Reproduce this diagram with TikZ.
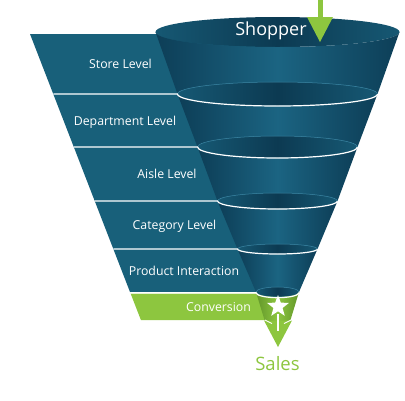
\documentclass[tikz,border=0pt]{standalone}
\usepackage{fontspec}
\setmainfont{Open Sans}
\usepackage{tikz}
\usetikzlibrary{shapes.geometric}
\definecolor{panelblue}{RGB}{24,96,122}
\definecolor{coneedge}{RGB}{13,62,87}
\definecolor{conemid}{RGB}{27,100,130}
\definecolor{rimedge}{RGB}{22,88,115}
\definecolor{rimmid}{RGB}{12,58,82}
\definecolor{rimline}{RGB}{60,135,165}
\definecolor{funnelgreen}{RGB}{141,198,63}
\definecolor{greendark}{RGB}{98,150,42}
\tikzset{
  cone/.style={left color=coneedge, right color=coneedge, middle color=conemid},
  rim/.style={left color=rimedge, right color=rimedge, middle color=rimmid},
  greencone/.style={left color=greendark, right color=greendark, middle color=funnelgreen},
  rimtop/.style={draw=rimline, line width=0.5pt},
  sepline/.style={white, line width=1.2pt},
  lvl/.style={text=white, anchor=base, inner sep=0pt, font=\fontsize{12.3}{14}\selectfont}
}
\begin{document}
\begin{tikzpicture}[x=1pt, y=1pt]
  \useasboundingbox (0,0) rectangle (405,-400);
  % side panel with the levels
  \fill[panelblue] (30,-34) -- (280,-34) -- (280,-292) -- (130,-292) -- cycle;
  \fill[funnelgreen] (130.6,-293.5) -- (280,-293.5) -- (280,-320) -- (140.9,-320) -- cycle;
  % funnel, top to bottom
  \shade[rim] (277.5,-32) ellipse[x radius=122, y radius=15];
  \shade[cone] (155.5,-32) -- (177.5,-94) arc[start angle=180, end angle=360, x radius=100, y radius=12]
    -- (399.5,-32) arc[start angle=0, end angle=-180, x radius=122, y radius=15] -- cycle;
  \shade[rim, rimtop] (277.5,-94) ellipse[x radius=100, y radius=12];
  \shade[cone] (177.5,-94) -- (197.5,-147) arc[start angle=180, end angle=360, x radius=80, y radius=11]
    -- (377.5,-94) arc[start angle=0, end angle=-180, x radius=100, y radius=12] -- cycle;
  \shade[rim, rimtop] (277.5,-147) ellipse[x radius=80, y radius=11];
  \shade[cone] (197.5,-147) -- (217.5,-201) arc[start angle=180, end angle=360, x radius=60, y radius=8]
    -- (357.5,-147) arc[start angle=0, end angle=-180, x radius=80, y radius=11] -- cycle;
  \shade[rim, rimtop] (277.5,-201) ellipse[x radius=60, y radius=8];
  \shade[cone] (217.5,-201) -- (237.5,-249) arc[start angle=180, end angle=360, x radius=40, y radius=5]
    -- (337.5,-201) arc[start angle=0, end angle=-180, x radius=60, y radius=8] -- cycle;
  \shade[rim, rimtop] (277.5,-249) ellipse[x radius=40, y radius=5];
  \shade[cone] (237.5,-249) -- (256,-292) arc[start angle=180, end angle=360, x radius=21.5, y radius=5]
    -- (317.5,-249) arc[start angle=0, end angle=-180, x radius=40, y radius=5] -- cycle;
  \shade[rim, rimtop] (277.5,-292) ellipse[x radius=21.5, y radius=5];
  \shade[greencone] (256,-292) -- (264.5,-320) arc[start angle=180, end angle=360, x radius=13, y radius=2]
    -- (299,-292) arc[start angle=0, end angle=-180, x radius=21.5, y radius=5] -- cycle;
  % level separators
  \draw[sepline] (53.3,-94) -- (177.5,-94) arc[start angle=180, end angle=360, x radius=100, y radius=12];
  \draw[sepline] (73.8,-147) -- (197.5,-147) arc[start angle=180, end angle=360, x radius=80, y radius=11];
  \draw[sepline] (94.7,-201) -- (217.5,-201) arc[start angle=180, end angle=360, x radius=60, y radius=8];
  \draw[sepline] (113.3,-249) -- (237.5,-249) arc[start angle=180, end angle=360, x radius=40, y radius=5];
  \draw[sepline] (130.3,-292.7) -- (256,-292.7) arc[start angle=180, end angle=360, x radius=21.5, y radius=5];
  % bottom arrow and star
  \fill[funnelgreen] (264,-320.5) -- (292,-320.5) -- (278,-347) -- cycle;
  \draw[white, line width=0.9pt] (265,-320) -- (272,-323.5) (284,-323.5) -- (291,-320);
  \draw[white, line width=1.2pt] (278,-314) -- (278,-331);
  \node[star, star points=5, star point ratio=2.4, fill=white, minimum size=23pt, inner sep=0pt] (star) at (278,-306.5) {};
  % top arrow
  \fill[funnelgreen] (317.5,0) rectangle (322.5,-19);
  \fill[funnelgreen] (307,-17) -- (333,-17) -- (320,-42) -- cycle;
  % labels
  \node[text=white, anchor=base, inner sep=0pt, font=\fontsize{18}{20}\selectfont] (shopper) at (271,-35) {Shopper};
  \node[lvl] (store) at (120.5,-68) {Store Level};
  \node[lvl] (dept) at (125,-125.5) {Department Level};
  \node[lvl] (aisle) at (167,-178.5) {Aisle Level};
  \node[lvl] (cat) at (174.5,-229.5) {Category Level};
  \node[lvl] (prod) at (184,-275.5) {Product Interaction};
  \node[lvl] (conv) at (218.5,-311) {Conversion};
  \node[text=funnelgreen, anchor=base, inner sep=0pt, font=\fontsize{18.5}{20}\selectfont] (sales) at (277.5,-370) {Sales};
\end{tikzpicture}
\end{document}
